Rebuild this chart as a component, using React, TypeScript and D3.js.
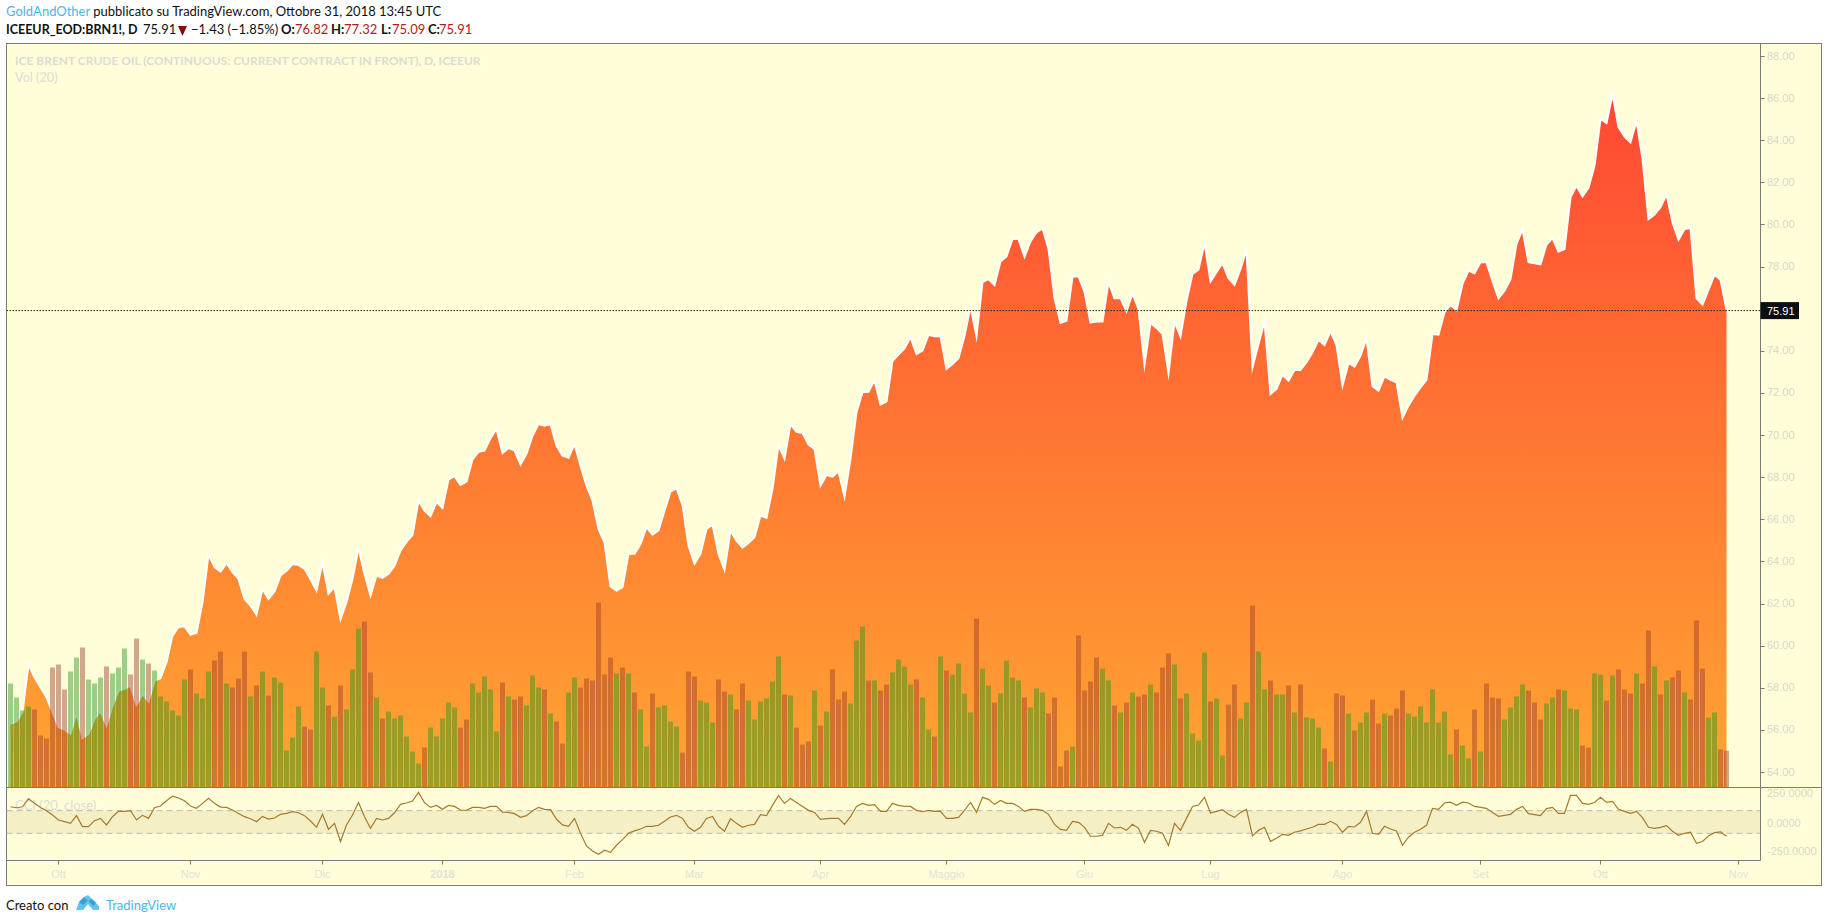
import * as d3 from "d3";

// daily close, ICE Brent continuous, sep 2017 -> oct 2018
const closes = [
  56.24, 56.35, 56.79, 59.06, 58.45, 57.98, 57.5, 56.79, 56.08, 55.97,
  55.76, 56.76, 55.56, 55.76, 56.47, 56.85, 56.16, 57.11, 57.82, 57.9,
  58.05, 57.15, 57.66, 57.3, 58.29, 58.41, 59.17, 60.43, 60.84, 60.87,
  60.48, 60.56, 62.01, 64.28, 63.68, 63.47, 63.87, 63.44, 63.12, 62.17,
  61.85, 61.42, 62.65, 62.17, 62.52, 63.28, 63.51, 63.83, 63.79, 63.6,
  63.12, 62.57, 63.9, 62.41, 62.74, 61.2, 62.03, 63.12, 64.6, 63.36,
  62.33, 63.28, 63.17, 63.36, 63.75, 64.46, 64.88, 65.21, 66.84, 66.36,
  66.1, 66.78, 66.49, 67.84, 68.0, 67.58, 67.74, 68.79, 69.16, 69.21,
  69.8, 70.24, 69.09, 69.34, 69.23, 68.55, 69.06, 69.92, 70.48, 70.4,
  70.48, 69.45, 68.97, 68.87, 69.53, 68.5, 67.55, 66.84, 65.49, 64.85,
  62.77, 62.57, 62.73, 64.31, 64.32, 64.78, 65.58, 65.22, 65.43, 66.36,
  67.27, 67.43, 66.63, 64.7, 63.85, 64.31, 65.49, 65.7, 64.31, 63.55,
  65.41, 64.94, 64.61, 64.83, 65.1, 66.13, 66.02, 67.39, 69.47, 68.82,
  70.48, 70.11, 70.05, 69.5, 69.29, 67.55, 68.06, 67.98, 68.23, 67.03,
  68.82, 71.04, 71.99, 72.01, 72.55, 71.4, 71.54, 73.46, 73.77, 74.07,
  74.6, 73.8, 73.96, 74.71, 74.64, 74.64, 73.09, 73.33, 73.6, 74.66,
  76.07, 74.64, 77.21, 77.36, 77.08, 78.19, 78.44, 79.26, 79.26, 78.42,
  79.15, 79.58, 79.77, 78.79, 76.46, 75.28, 75.38, 77.47, 77.49, 76.76,
  75.29, 75.34, 75.34, 77.22, 76.45, 76.45, 75.83, 76.68, 75.94, 73.28,
  75.28, 75.04, 74.75, 72.89, 75.34, 74.63, 76.33, 77.6, 77.81, 79.08,
  77.24, 77.68, 78.12, 77.4, 77.08, 77.84, 78.76, 73.17, 74.28, 75.36,
  71.9, 72.14, 72.82, 72.54, 73.04, 73.04, 73.41, 73.88, 74.48, 74.23,
  74.88, 74.23, 72.3, 73.38, 73.2, 73.71, 74.55, 72.27, 72.06, 72.74,
  72.58, 72.46, 70.76, 71.35, 71.82, 72.22, 72.57, 74.75, 74.72, 75.78,
  76.14, 75.89, 77.13, 77.76, 77.64, 78.16, 78.16, 77.26, 76.45, 76.81,
  77.36, 79.03, 79.72, 78.16, 78.11, 78.06, 79.0, 79.31, 78.66, 78.79,
  81.24, 81.79, 81.29, 81.69, 82.74, 84.96, 84.77, 86.15, 84.57, 84.12,
  83.85, 84.87, 83.06, 80.21, 80.42, 80.77, 81.38, 80.06, 79.23, 79.74,
  79.79, 76.45, 76.14, 76.86, 77.57, 77.33, 75.91,
];

// thousands of contracts
const volumes = [
  104, 90, 77, 81, 78, 52, 49, 120, 123, 98,
  116, 130, 140, 108, 104, 110, 121, 114, 120, 139,
  113, 149, 128, 124, 117, 91, 86, 77, 72, 108,
  118, 94, 89, 116, 127, 136, 104, 100, 109, 136,
  91, 102, 116, 92, 110, 105, 37, 50, 81, 61,
  58, 136, 100, 82, 71, 102, 78, 118, 159, 166,
  115, 90, 69, 76, 69, 72, 51, 36, 24, 40,
  60, 51, 69, 85, 80, 60, 68, 104, 95, 111,
  98, 56, 105, 91, 88, 91, 82, 112, 100, 98,
  74, 66, 44, 95, 110, 100, 109, 107, 185, 113,
  130, 114, 120, 114, 95, 78, 41, 94, 80, 82,
  66, 61, 35, 116, 111, 87, 85, 65, 108, 96,
  93, 78, 104, 87, 68, 86, 89, 106, 131, 93,
  92, 60, 43, 46, 97, 62, 76, 118, 88, 96,
  84, 147, 161, 107, 107, 97, 103, 115, 128, 121,
  103, 108, 90, 58, 51, 131, 117, 113, 124, 94,
  75, 169, 119, 102, 85, 94, 127, 110, 107, 90,
  80, 99, 95, 74, 90, 21, 37, 41, 152, 97,
  106, 130, 119, 107, 82, 75, 85, 95, 91, 93,
  103, 95, 120, 134, 123, 89, 94, 54, 47, 135,
  86, 89, 32, 83, 103, 69, 85, 182, 136, 98,
  107, 93, 93, 102, 75, 103, 70, 69, 60, 39,
  26, 94, 92, 74, 57, 65, 75, 88, 64, 74,
  72, 79, 97, 74, 71, 81, 65, 98, 65, 76,
  33, 58, 42, 29, 78, 36, 104, 90, 89, 68,
  80, 91, 103, 97, 85, 68, 84, 90, 98, 97,
  79, 78, 42, 40, 114, 113, 87, 112, 118, 98,
  94, 114, 104, 157, 121, 93, 107, 110, 117, 95,
  88, 167, 119, 70, 75, 38, 37,
];

// g = close above open, r = close below open
const volumeDirs = [
  "ggggrrrrrr", "ggrgggrggg", "rrgrgggggg", "rgggrrgrrr", "grgrgggggr",
  "rggrgrgggr", "rgrggggggr", "gggggrrggg", "ggrgrrgggr", "grrggrrrrr",
  "rgrgrggrgg", "ggrrrgggrr", "grrggggggr", "grrrgrgrrr", "gggrgrrggg",
  "grggrgrggg", "grggrggggr", "gggrrrrgrr", "rrggrgrgrr", "grrrgrgggg",
  "rggrrggrgg", "rggrgrgggr", "grrgrggrrg", "rrrggggggg", "grggrgrrrg",
  "gggrrrggrg", "ggrrggrgrr", "rgrrgrgrrg", "rrrggrr",
].join("");

const cci = [
  135, 126, 135, 206, 165, 129, 100, 62, 18, 3,
  -12, 56, -41, -41, 12, 32, -26, 47, 94, 94,
  100, 18, 59, 32, 126, 141, 188, 229, 212, 188,
  141, 121, 165, 209, 165, 132, 129, 106, 76, 47,
  29, 3, 50, 26, 35, 68, 76, 91, 82, 56,
  9, -47, 68, -65, -12, -173, -26, 62, 173, 47,
  -56, 32, 18, 32, 82, 156, 168, 185, 262, 171,
  129, 147, 112, 147, 138, 106, 103, 129, 129, 121,
  138, 138, 88, 85, 74, 41, 56, 100, 129, 112,
  109, 24, -26, -38, 32, -100, -212, -256, -285, -250,
  -268, -206, -156, -100, -79, -62, -38, -38, -29, 6,
  44, 59, 32, -47, -82, -47, 32, 50, -38, -82,
  29, -12, -47, -29, -21, 65, 56, 147, 235, 165,
  209, 173, 138, 103, 85, 24, 29, 32, 32, -21,
  47, 138, 165, 147, 153, 94, 94, 165, 147, 138,
  138, 103, 91, 103, 94, 94, 32, 32, 41, 103,
  173, 85, 218, 200, 156, 191, 165, 165, 138, 94,
  112, 112, 103, 68, -21, -65, -74, 6, -3, -47,
  -126, -126, -118, -12, -53, -47, -74, -21, -56, -179,
  -74, -82, -100, -209, -12, -74, 32, 138, 150, 218,
  79, 94, 109, 68, 41, 85, 112, -123, -74, -47,
  -171, -144, -109, -118, -91, -79, -62, -47, -21, -21,
  6, -21, -91, -38, -44, -3, 94, -100, -109, -38,
  -62, -79, -206, -135, -91, -65, -29, 121, 112, 168,
  176, 147, 176, 168, 138, 129, 121, 85, 50, 59,
  68, 112, 138, 74, 65, 56, 118, 129, 76, 76,
  235, 235, 165, 156, 173, 218, 173, 182, 112, 94,
  76, 94, 38, -47, -56, -47, -32, -82, -118, -100,
  -91, -188, -173, -123, -94, -88, -126,
];

const priceTicks = d3.range(54, 90, 2);
const cciTicks = [250, 0, -250];
// bar index of each month's first session (Nov 2018 is past the last bar)
const monthIdx = [8, 30, 52, 72, 94, 114, 135, 156, 179, 200, 222, 245, 265, 288];
const monthNames = ["Ott", "Nov", "Dic", "2018", "Feb", "Mar", "Apr", "Maggio", "Giu", "Lug", "Ago", "Set", "Ott", "Nov"];

const W = 1828;
const H = 922;
const box = { l: 6.5, t: 43.5, r: 1821.5, b: 885.5 };
const axisX = 1760.5;
const paneBot = 787.5;
const ccBot = 860.5;
// the white stroke hides about a pixel of the fill, so lift the price marks by that
const lift = 1;

const LAST = closes[closes.length - 1];
const BG = "#fffed9";
const FRAME = "#787b78";
const UI = "Lato, 'Noto Sans', sans-serif";
const AX = "'Liberation Sans', Arial, sans-serif";

const x = d3.scaleLinear().domain([0, closes.length - 1]).range([10.5, 1726.5]);
const y = d3.scaleLinear().domain([54, 88]).range([772, 56]);
const yVol = d3.scaleLinear().domain([0, 250]).range([paneBot, paneBot - 250]);
const yCci = d3.scaleLinear().domain([-100, 100]).range([833.3, 810.7]);

export default function App() {
  const area = d3
    .area<number>()
    .x((_, i) => x(i))
    .y0(paneBot)
    .y1((d) => y(d) - lift)(closes) as string;
  const line = d3
    .line<number>()
    .x((_, i) => x(i))
    .y((d) => y(d) - lift)(closes) as string;
  const cciLine = d3
    .line<number>()
    .x((_, i) => x(i))
    .y((d) => yCci(d))(cci) as string;

  const lastY = y(LAST);

  return (
    <svg width={W} height={H} style={{ position: "absolute", left: 0, top: 0, background: "#fff" }}>
      <defs>
        <linearGradient id="priceGrad" gradientUnits="userSpaceOnUse" x1={0} x2={0} y1={y(86.15)} y2={paneBot}>
          <stop offset="0%" stopColor="#ff4833" />
          <stop offset="100%" stopColor="#ffa632" />
        </linearGradient>
        <clipPath id="mainClip">
          <rect x={box.l} y={box.t} width={axisX - box.l} height={paneBot - box.t} />
        </clipPath>
        <clipPath id="ccClip">
          <rect x={box.l} y={paneBot} width={axisX - box.l} height={ccBot - paneBot} />
        </clipPath>
      </defs>

      {/* header */}
      <text x={6} y={16} fontFamily={UI} fontSize={13} fill="#111">
        <tspan fill="#4db6e6">GoldAndOther</tspan> pubblicato su TradingView.com, Ottobre 31, 2018 13:45 UTC
      </text>
      <g fontFamily={UI} fontSize={13} fill="#111">
        <text x={6} y={34} fontSize={12.5} fontWeight={700}>ICEEUR_EOD:BRN1!, D</text>
        <text x={143} y={34}>75.91</text>
        <path d="M178,26 L187,26 L182.5,36 Z" fill="#8b0a0a" />
        <text x={191} y={34}>−1.43 (−1.85%)</text>
        <text x={281} y={34} fontWeight={700}>O:</text>
        <text x={295} y={34} fill="#b01c1c">76.82</text>
        <text x={331} y={34} fontWeight={700}>H:</text>
        <text x={344} y={34} fill="#b01c1c">77.32</text>
        <text x={381} y={34} fontWeight={700}>L:</text>
        <text x={392} y={34} fill="#b01c1c">75.09</text>
        <text x={428} y={34} fontWeight={700}>C:</text>
        <text x={439} y={34} fill="#b01c1c">75.91</text>
      </g>

      {/* panel */}
      <rect x={box.l} y={box.t} width={box.r - box.l} height={box.b - box.t} fill={BG} stroke={FRAME} />

      <g clipPath="url(#mainClip)">
        <path d={area} fill="url(#priceGrad)" />
        <path d={line} fill="none" stroke="#fff" strokeWidth={2} strokeLinejoin="miter" strokeMiterlimit={10} />
        {volumes.map((v, i) => (
          <rect
            key={i}
            x={x(i) - 2.5}
            y={yVol(v)}
            width={5}
            height={paneBot - yVol(v)}
            fill={volumeDirs[i] === "g" ? "#26951a" : "#9b3c2c"}
            opacity={0.45}
          />
        ))}
        <line x1={box.l} x2={axisX} y1={lastY} y2={lastY} stroke="#222" strokeDasharray="1.5 1.5" />
      </g>

      {/* titles */}
      <g fontFamily={UI} fill="#dcdcd2">
        <text x={15} y={65} fontSize={12} fontWeight={700}>ICE BRENT CRUDE OIL (CONTINUOUS: CURRENT CONTRACT IN FRONT), D, ICEEUR</text>
        <text x={15} y={82} fontSize={12.7}>Vol (20)</text>
        <text x={15} y={810} fontSize={13}>CCI (20, close)</text>
      </g>

      {/* CCI pane */}
      <rect x={box.l + 0.5} y={yCci(100)} width={axisX - box.l - 1} height={yCci(-100) - yCci(100)} fill="#f5efc6" />
      {[100, -100].map((v) => (
        <line key={v} x1={box.l} x2={axisX} y1={yCci(v)} y2={yCci(v)} stroke="#bdb9ab" strokeDasharray="6 4" />
      ))}
      <g clipPath="url(#ccClip)">
        <path d={cciLine} fill="none" stroke="#a67a2c" strokeWidth={1.2} />
      </g>

      {/* axes */}
      <line x1={axisX} x2={axisX} y1={box.t} y2={ccBot} stroke={FRAME} />
      <line x1={box.l} x2={box.r} y1={paneBot} y2={paneBot} stroke={FRAME} />
      <line x1={box.l} x2={axisX} y1={ccBot} y2={ccBot} stroke={FRAME} />

      <g fontFamily={AX} fontSize={11} fill="#d8d8c8">
        {priceTicks.map((t) => (
          <g key={t}>
            <line x1={axisX} x2={axisX + 4} y1={Math.round(y(t)) + 0.5} y2={Math.round(y(t)) + 0.5} stroke={FRAME} />
            <text x={1767} y={y(t) + 3.5}>{t.toFixed(2)}</text>
          </g>
        ))}
        {cciTicks.map((t) => (
          <text key={t} x={1767} y={yCci(t) + 3.5 + (t < 0 ? 1.5 : t === 0 ? 1 : -0.5)}>{t.toFixed(4)}</text>
        ))}
      </g>

      <rect x={axisX} y={lastY - 8.5} width={38.5} height={17} fill="#0c0f12" />
      <text x={1767} y={lastY + 4} fontFamily={AX} fontSize={11} fill="#fff">{LAST.toFixed(2)}</text>

      <g fontFamily={AX} fontSize={11} fill="#e2e2d6" textAnchor="middle">
        {monthIdx.map((m, i) => (
          <g key={i}>
            <line x1={x(m)} x2={x(m)} y1={ccBot} y2={ccBot + 4} stroke={FRAME} />
            <text x={x(m)} y={878} fontWeight={monthNames[i] === "2018" ? 700 : 400}>{monthNames[i]}</text>
          </g>
        ))}
      </g>

      {/* footer */}
      <text x={6} y={910} fontFamily={UI} fontSize={13} fill="#111">Creato con</text>
      <path d="M76,910 L79,902 L84,897 L88,895 L92,899 L96,903 L99,906 L99,910 L93,910 L88,904 L83,910 Z" fill="#62c3ec" />
      <path d="M79,902 L84,897 L88,901 L92,899 L96,903 L93,906 L88,900 L83,905 Z" fill="#3a9fd6" />
      <text x={106} y={910} fontFamily={UI} fontSize={13} fill="#4db6e6">TradingView</text>
    </svg>
  );
}
